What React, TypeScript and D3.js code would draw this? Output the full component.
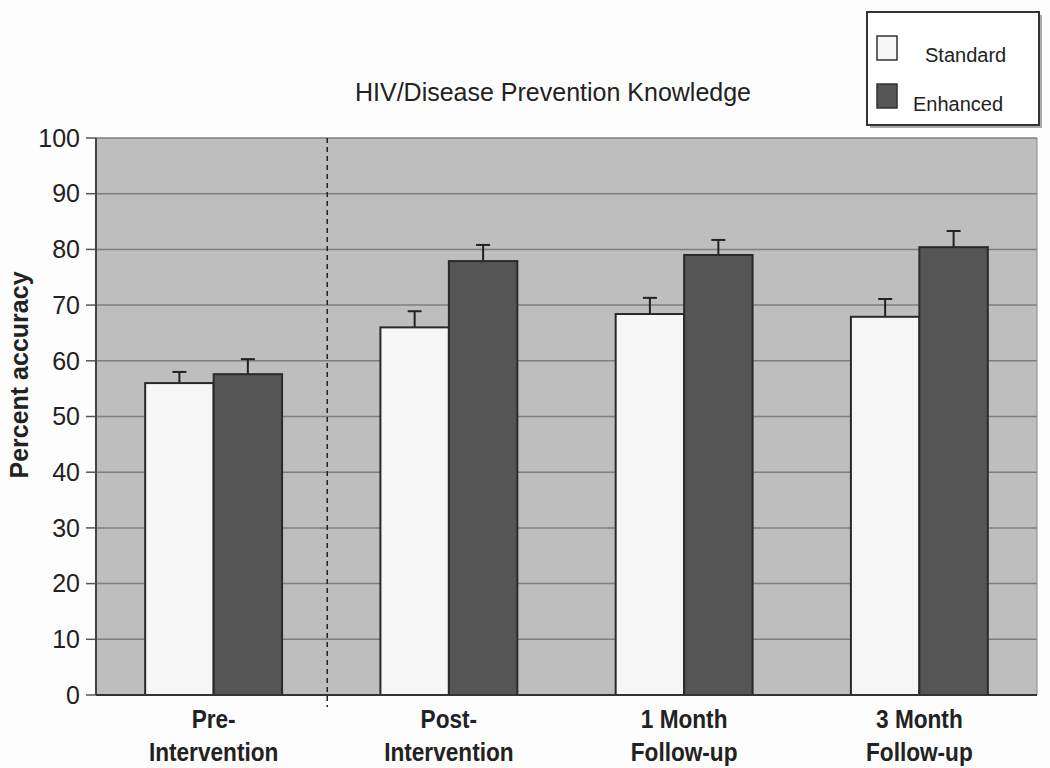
import React from 'react';
import * as d3 from 'd3';

const categories = [['Pre-', 'Intervention'], ['Post-', 'Intervention'], ['1 Month', 'Follow-up'], ['3 Month', 'Follow-up']];
const seriesNames = ['Standard', 'Enhanced'];
const standardVals = [56.0, 66.0, 68.4, 67.9];
const standardErr = [2.0, 2.9, 2.9, 3.2];
const enhancedVals = [57.6, 77.9, 79.0, 80.4];
const enhancedErr = [2.7, 2.9, 2.7, 2.9];
const yTicks = [0, 10, 20, 30, 40, 50, 60, 70, 80, 90, 100];

const W = 1050;
const H = 768;
const m = { top: 138, right: 13, bottom: 73, left: 96 };
const FILL = ['#f6f6f6', '#555555'];
const FONT = 'Liberation Sans, Arial, sans-serif';

export default function App() {
  const iw = W - m.left - m.right;
  const ih = H - m.top - m.bottom;
  const x = d3.scaleBand<number>().domain(d3.range(categories.length)).range([0, iw])
    .paddingInner(0.418).paddingOuter(0.209);
  const xs = d3.scaleBand<number>().domain([0, 1]).range([0, x.bandwidth()]);
  const y = d3.scaleLinear().domain([0, 100]).range([ih, 0]);
  const vals = [standardVals, enhancedVals];
  const errs = [standardErr, enhancedErr];
  const divider = x.step() - 4;

  return (
    <svg width={W} height={H} style={{ position: 'absolute', left: 0, top: 0, background: '#fdfdfd' }} fontFamily={FONT}>
      <text x={553} y={101} textAnchor="middle" fontSize={25} fill="#222">HIV/Disease Prevention Knowledge</text>

      <g transform={`translate(${m.left},${m.top})`}>
        <rect width={iw} height={ih} fill="#bebebe" />
        {yTicks.map(t => (
          <g key={t}>
            <line x1={0} x2={iw} y1={y(t)} y2={y(t)} stroke="#7e7e7e" strokeWidth={1.5} />
            <line x1={-10} x2={0} y1={y(t)} y2={y(t)} stroke="#555" strokeWidth={1.5} />
            <text x={-16} y={y(t)} dy="0.35em" textAnchor="end" fontSize={25} fill="#222">{t}</text>
          </g>
        ))}
        <line x1={0} x2={0} y1={0} y2={ih} stroke="#444" strokeWidth={2} />
        <line x1={iw} x2={iw} y1={0} y2={ih} stroke="#888" strokeWidth={1} />
        <line x1={divider} x2={divider} y1={0} y2={ih + 12} stroke="#222" strokeWidth={1.5} strokeDasharray="5,4" />

        {categories.map((c, i) => (
          <g key={i} transform={`translate(${x(i)},0)`}>
            {vals.map((v, s) => {
              const bx = xs(s)!;
              const bw = xs.bandwidth();
              const cx = bx + bw / 2;
              const top = y(v[i] + errs[s][i]);
              return (
                <g key={s}>
                  <line x1={cx} x2={cx} y1={y(v[i])} y2={top} stroke="#222" strokeWidth={2} />
                  <line x1={cx - 7} x2={cx + 7} y1={top} y2={top} stroke="#222" strokeWidth={2} />
                  <rect x={bx} y={y(v[i])} width={bw} height={ih - y(v[i])} fill={FILL[s]} stroke="#2a2a2a" strokeWidth={2} />
                </g>
              );
            })}
            <g transform={`translate(${x.bandwidth() / 2},0) scale(0.87,1)`}>
              <text y={ih + 33} textAnchor="middle" fontSize={26} fontWeight="bold" fill="#222">{c[0]}</text>
              <text y={ih + 66} textAnchor="middle" fontSize={26} fontWeight="bold" fill="#222">{c[1]}</text>
            </g>
          </g>
        ))}
        <line x1={0} x2={iw} y1={ih} y2={ih} stroke="#333" strokeWidth={2} />
      </g>

      <text transform={`translate(28,375) rotate(-90)`} textAnchor="middle" fontSize={25} fontWeight="bold" fill="#222">Percent accuracy</text>

      <g>
        <rect x={870} y={15} width={172} height={113} fill="#aaa" />
        <rect x={867} y={12} width={172} height={113} fill="#fff" stroke="#333" strokeWidth={2} />
        {seriesNames.map((n, s) => (
          <g key={n}>
            <rect x={877} y={36 + s * 48} width={20} height={24} fill={FILL[s]} stroke="#333" strokeWidth={1.5} />
            <text x={s === 0 ? 925 : 913} y={62 + s * 49} fontSize={20} fill="#222">{n}</text>
          </g>
        ))}
      </g>
    </svg>
  );
}
